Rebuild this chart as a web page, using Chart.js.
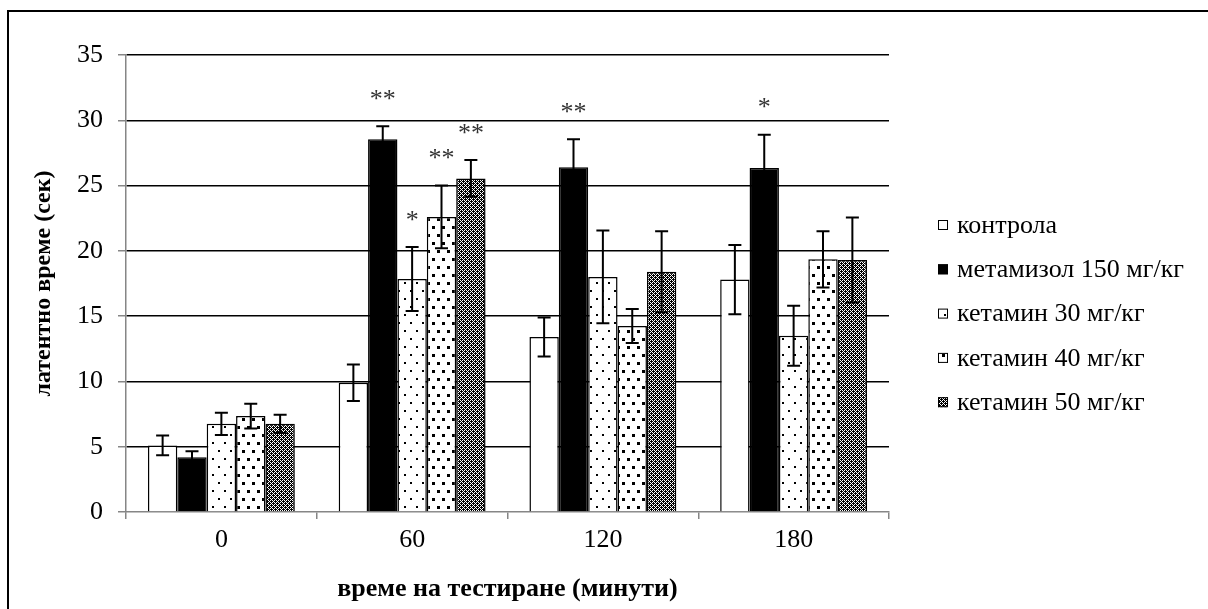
<!DOCTYPE html>
<html>
<head>
<meta charset="utf-8">
<script src="https://cdn.jsdelivr.net/npm/chart.js@4"></script>
<style>
  body { margin: 0; background: #fff; }
  canvas { display: block; }
</style>
</head>
<body>
<canvas id="latency-chart" width="1208" height="609"></canvas>
<script>
// data
const timePoints = ['0', '60', '120', '180'];
const seriesNames = ['контрола', 'метамизол 150 мг/кг', 'кетамин 30 мг/кг', 'кетамин 40 мг/кг', 'кетамин 50 мг/кг'];

const kontrola = [5.1, 9.9, 13.4, 17.8];
const metamizol = [4.2, 28.55, 26.4, 26.35];
const ketamin30 = [6.75, 17.85, 18.0, 13.5];
const ketamin40 = [7.35, 22.6, 14.25, 19.35];
const ketamin50 = [6.75, 25.55, 18.4, 19.3];

const errKontrola = [0.75, 1.4, 1.5, 2.65];
const errMetamizol = [0.45, 1.0, 2.15, 2.55];
const errKetamin30 = [0.85, 2.45, 3.55, 2.3];
const errKetamin40 = [0.95, 2.4, 1.3, 2.15];
const errKetamin50 = [0.7, 1.4, 3.1, 3.25];

const starsKontrola = ['', '', '', ''];
const starsMetamizol = ['', '**', '**', '*'];
const starsKetamin30 = ['', '*', '', ''];
const starsKetamin40 = ['', '**', '', ''];
const starsKetamin50 = ['', '**', '', ''];

const yTicks = [0, 5, 10, 15, 20, 25, 30, 35];

const serif = "'Liberation Serif', 'Times New Roman', serif";
const axisGrey = '#868686';

function makePattern(w, h, paint) {
    const c = document.createElement('canvas');
    c.width = w;
    c.height = h;
    const p = c.getContext('2d');
    paint(p);
    return p.createPattern(c, 'repeat');
}

const canvas = document.getElementById('latency-chart');
const ctx = canvas.getContext('2d');

const sparseDots = makePattern(12, 16, function (p) {
    p.fillStyle = '#fff'; p.fillRect(0, 0, 12, 16);
    p.fillStyle = '#000';
    p.fillRect(2, 2, 2, 2);
    p.fillRect(8, 10, 2, 2);
});
const denseDots = makePattern(10, 16, function (p) {
    p.fillStyle = '#fff'; p.fillRect(0, 0, 10, 16);
    p.fillStyle = '#000';
    p.fillRect(2, 2, 3, 3);
    p.fillRect(7, 10, 3, 3);
});
const checker = makePattern(4, 4, function (p) {
    p.fillStyle = '#000'; p.fillRect(0, 0, 4, 4);
    p.fillStyle = '#fff';
    p.fillRect(0, 0, 1, 1); p.fillRect(2, 0, 1, 1);
    p.fillRect(1, 1, 1, 1);
    p.fillRect(0, 2, 1, 1); p.fillRect(2, 2, 1, 1);
    p.fillRect(3, 3, 1, 1);
});

const fills = ['#ffffff', '#000000', sparseDots, denseDots, checker];
const values = [kontrola, metamizol, ketamin30, ketamin40, ketamin50];
const errors = [errKontrola, errMetamizol, errKetamin30, errKetamin40, errKetamin50];
const stars = [starsKontrola, starsMetamizol, starsKetamin30, starsKetamin40, starsKetamin50];

const errorBarsPlugin = {
    id: 'errorBars',
    afterDatasetsDraw(chart) {
        const c = chart.ctx;
        const y = chart.scales.y;
        c.save();
        chart.data.datasets.forEach(function (ds, i) {
            const meta = chart.getDatasetMeta(i);
            meta.data.forEach(function (bar, j) {
                const v = values[i][j], e = errors[i][j];
                const top = y.getPixelForValue(v + e);
                const bottom = y.getPixelForValue(v - e);
                c.strokeStyle = '#000';
                c.lineWidth = 2;
                c.beginPath();
                c.moveTo(bar.x, top); c.lineTo(bar.x, bottom);
                c.moveTo(bar.x - 6.5, top); c.lineTo(bar.x + 6.5, top);
                c.moveTo(bar.x - 6.5, bottom); c.lineTo(bar.x + 6.5, bottom);
                c.stroke();
                if (stars[i][j]) {
                    c.fillStyle = '#333';
                    c.font = '26px ' + serif;
                    c.textAlign = 'center';
                    c.textBaseline = 'middle';
                    c.fillText(stars[i][j], bar.x, top - 26);
                }
            });
        });
        c.restore();
    }
};

const legendAndFramePlugin = {
    id: 'sideLegend',
    afterDraw(chart) {
        const c = chart.ctx;
        c.save();
        // figure frame (only top and left edges show in the picture)
        c.strokeStyle = '#000';
        c.lineWidth = 2;
        c.beginPath();
        c.moveTo(8, 609); c.lineTo(8, 11); c.lineTo(1208, 11);
        c.stroke();

        c.font = '26px ' + serif;
        c.textAlign = 'left';
        c.textBaseline = 'middle';
        chart.data.datasets.forEach(function (ds, i) {
            const cy = 225 + i * 44.3;
            c.fillStyle = ds.backgroundColor;
            c.fillRect(938, cy - 5, 10, 10);
            c.lineWidth = 1;
            c.strokeStyle = '#000';
            c.strokeRect(938.5, cy - 4.5, 9, 9);
            c.fillStyle = '#000';
            c.fillText(ds.label, 957, cy + 1);
        });
        c.restore();
    }
};

const latencyChart = new Chart(ctx, {
    type: 'bar',
    data: {
        labels: timePoints,
        datasets: seriesNames.map(function (name, i) {
            return {
                label: name,
                data: values[i],
                backgroundColor: fills[i],
                borderColor: '#000',
                borderWidth: 1.5,
                barPercentage: 1,
                categoryPercentage: 0.77
            };
        })
    },
    options: {
        responsive: false,
        devicePixelRatio: 1,
        animation: false,
        layout: { padding: { left: 0, top: 55, right: 319, bottom: 0 } },
        plugins: {
            legend: { display: false },
            tooltip: { enabled: false }
        },
        scales: {
            x: {
                afterFit: function (scale) { scale.height = 97; },
                grid: {
                    display: true,
                    drawOnChartArea: false,
                    offset: true,
                    color: axisGrey,
                    tickColor: axisGrey,
                    tickLength: 7,
                    lineWidth: 1.5
                },
                border: { color: axisGrey, width: 1.5 },
                ticks: { color: '#000', font: { family: serif, size: 26 }, padding: 6 },
                title: {
                    display: true,
                    text: 'време на тестиране (минути)',
                    color: '#000',
                    font: { family: serif, size: 26, weight: 'bold', lineHeight: 1.2 },
                    padding: { top: 0, bottom: 4 }
                }
            },
            y: {
                min: 0,
                max: 35,
                afterFit: function (scale) { scale.width = 126; },
                afterBuildTicks: function (scale) {
                    scale.ticks = yTicks.map(function (v) { return { value: v }; });
                },
                grid: {
                    color: function (c) { return c.tick && c.tick.value === 0 ? 'rgba(0,0,0,0)' : '#000'; },
                    lineWidth: 1.5,
                    tickColor: axisGrey,
                    tickLength: 8
                },
                border: { color: axisGrey, width: 1.5 },
                ticks: { color: '#000', font: { family: serif, size: 26 }, padding: 15 },
                title: {
                    display: true,
                    text: 'латентно време (сек)',
                    color: '#000',
                    font: { family: serif, size: 24, weight: 'bold', lineHeight: 1.2 },
                    padding: { top: 29, bottom: 0 }
                }
            }
        }
    },
    plugins: [errorBarsPlugin, legendAndFramePlugin]
});
</script>
</body>
</html>
